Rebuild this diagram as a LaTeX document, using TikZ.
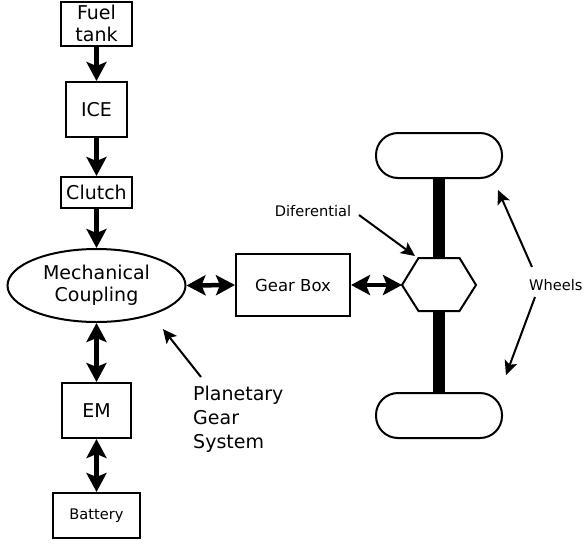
\documentclass[tikz,border=0pt]{standalone}
\usepackage{fontspec}
\setmainfont{DejaVu Sans}
\usetikzlibrary{arrows.meta,shapes.geometric}
\begin{document}
\begin{tikzpicture}[x=1pt,y=-1pt,
  box/.style={draw,line width=2pt,inner sep=0pt,fill=white,font=\fontsize{19}{22}\selectfont,align=center},
  wheel/.style={draw,line width=2pt,fill=white,inner sep=0pt,minimum width=126pt,minimum height=45pt,rounded corners=22pt},
  flow/.style={line width=4.5pt,-{Stealth[length=19pt,width=20pt,inset=4pt]}},
  biflow/.style={line width=4.5pt,{Stealth[length=19pt,width=20pt,inset=4pt]}-{Stealth[length=19pt,width=20pt,inset=4pt]}},
  note/.style={line width=2pt,-{Stealth[length=14pt,width=13pt,inset=3pt]}},
  small/.style={font=\fontsize{14.6}{17}\selectfont,inner sep=0pt},
  big/.style={font=\fontsize{19}{24}\selectfont,inner sep=0pt,align=left},
]
\useasboundingbox (0,0) rectangle (583,544);

% left column
\node[box,minimum width=71pt,minimum height=44pt] (fuel) at (96.5,23.5) {Fuel\\tank};
\node[box,minimum width=61pt,minimum height=55pt] (ice) at (96.5,109.5) {ICE};
\node[box,minimum width=71pt,minimum height=31pt] (clutch) at (96.5,192.5) {Clutch};
\node[box,ellipse,minimum width=178pt,minimum height=73pt] (mc) at (96.5,285.5) {Mechanical\\Coupling};
\node[box,minimum width=69pt,minimum height=55pt] (em) at (96.5,410.5) {EM};
\node[box,minimum width=87pt,minimum height=45pt,font=\fontsize{14.6}{17}\selectfont] (bat) at (96.5,515.5) {Battery};

\draw[flow] (fuel) -- (ice);
\draw[flow] (ice) -- (clutch);
\draw[flow] (clutch) -- (mc);
\draw[biflow] (mc) -- (em);
\draw[biflow] (em) -- (bat);

% gear box
\node[box,minimum width=114pt,minimum height=62pt,font=\fontsize{16.5}{19}\selectfont] (gb) at (293,285) {Gear Box};
\draw[biflow] (mc.east) -- (gb.west);

% axle and wheels
\node[wheel] (wheelT) at (439,155.5) {};
\node[wheel] (wheelB) at (439,415.5) {};
\coordinate (dL) at (402,285);
\coordinate (dT) at (439,258);
\coordinate (dB) at (439,311);
\draw[line width=12pt] (wheelT.south) -- (dT);
\draw[line width=12pt] (dB) -- (wheelB.north);
\draw[line width=2pt,fill=white,line join=miter] (402,285) -- (418.5,258) -- (459.5,258) -- (476,285) -- (459.5,311) -- (418.5,311) -- cycle;
\draw[biflow] (gb.east) -- (dL);

% annotations
\node[small] (diflab) at (313,211) {Diferential};
\coordinate (difs) at (359,215);
\coordinate (dife) at (415,256);
\draw[note] (difs) -- (dife);

\node[small,anchor=west] (wlab) at (529,285) {Wheels};
\coordinate (w1s) at (532,267);
\coordinate (w1e) at (498,190);
\coordinate (w2s) at (535,297);
\coordinate (w2e) at (506,375);
\draw[note] (w1s) -- (w1e);
\draw[note] (w2s) -- (w2e);

\node[big,anchor=west] (pgs) at (193,419) {Planetary\\Gear\\System};
\coordinate (ps) at (201,377);
\coordinate (pe) at (163,329);
\draw[note] (ps) -- (pe);
\end{tikzpicture}
\end{document}
